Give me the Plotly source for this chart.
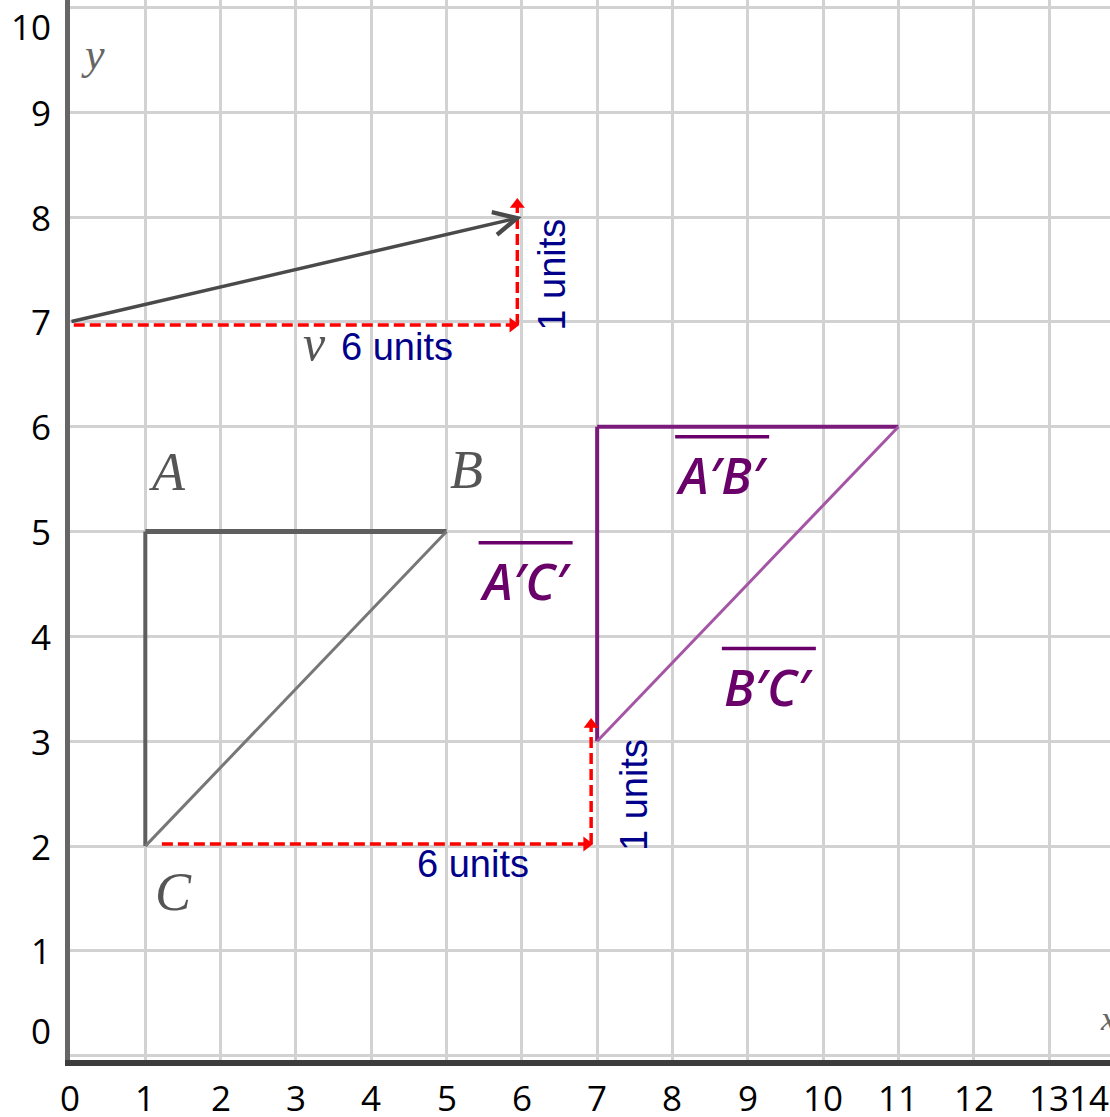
import plotly.graph_objects as go

# ---- data ----
x_ticks = list(range(0, 15))
y_ticks = list(range(0, 11))

tri_x = [1, 5, 1]            # A, B, C
tri_y = [5, 5, 2]
img_x = [7, 11, 7]           # A', B', C'
img_y = [6, 6, 3]
edges = [(0, 1), (0, 2), (1, 2)]  # AB, AC, BC

v_start = (0, 7)
v_end = (6, 8)

# red dashed translation guides
guide1_h_x = [0.05, 5.88]; guide1_h_y = [6.97, 6.97]
guide1_v_x = [5.94, 5.94]; guide1_v_y = [6.97, 8.12]
guide2_h_x = [1.22, 6.86]; guide2_h_y = [2.02, 2.02]
guide2_v_x = [6.92, 6.92]; guide2_v_y = [2.02, 3.16]

vertex_labels = ["A", "B", "C"]
vertex_label_x = [1.29, 5.27, 1.37]
vertex_label_y = [5.57, 5.59, 1.56]

seg_labels = ["A′B′", "A′C′", "B′C′"]
seg_label_x = [8.66, 6.05, 9.28]
seg_label_y = [5.57, 4.56, 3.55]

unit_h_text = ["6 units", "6 units"]
unit_h_x = [4.34, 5.35]
unit_h_y = [6.76, 1.83]
unit_v_text = ["1 units", "1 units"]
unit_v_x = [6.40, 7.48]
unit_v_y = [7.45, 2.49]

X_MAX = 13.81
Y_MIN, Y_MAX = -0.04, 10.07

GRAY = "#5e5e5e"
PURPLE = "#7a1a7a"
PURPLE_LIGHT = "#a455a4"
NAVY = "#00008b"
RED = "#ff0000"

fig = go.Figure()

# original triangle
tri_w = [5, 4, 3]
tri_c = [GRAY, GRAY, "#777777"]
for (i, j), w, c in zip(edges, tri_w, tri_c):
    fig.add_trace(go.Scatter(x=[tri_x[i], tri_x[j]], y=[tri_y[i], tri_y[j]], mode="lines",
                             line=dict(color=c, width=w), hoverinfo="skip", showlegend=False))
# image triangle
img_w = [4, 4, 3]
img_c = [PURPLE, PURPLE, PURPLE_LIGHT]
for (i, j), w, c in zip(edges, img_w, img_c):
    fig.add_trace(go.Scatter(x=[img_x[i], img_x[j]], y=[img_y[i], img_y[j]], mode="lines",
                             line=dict(color=c, width=w), hoverinfo="skip", showlegend=False))

# red dashed guides
for gx, gy, sym in [(guide1_h_x, guide1_h_y, "triangle-right"), (guide1_v_x, guide1_v_y, "triangle-up"),
                    (guide2_h_x, guide2_h_y, "triangle-right"), (guide2_v_x, guide2_v_y, "triangle-up")]:
    fig.add_trace(go.Scatter(x=gx, y=gy, mode="lines", line=dict(color=RED, width=3.5, dash="11px,5px"),
                             hoverinfo="skip", showlegend=False))
    fig.add_trace(go.Scatter(x=[gx[-1]], y=[gy[-1]], mode="markers",
                             marker=dict(symbol=sym, size=13, color=RED), hoverinfo="skip", showlegend=False))

annotations = []
# vector v
annotations.append(dict(x=v_end[0], y=v_end[1], ax=v_start[0], ay=v_start[1], xref="x", yref="y",
                        axref="x", ayref="y", text="", showarrow=True, arrowhead=5, arrowsize=1.3,
                        arrowwidth=3.5, arrowcolor="#4a4a4a"))
annotations.append(dict(x=3.25, y=6.80, xref="x", yref="y", text="v", showarrow=False,
                        font=dict(family="Liberation Serif", size=50, color="#555555", style="italic")))
annotations.append(dict(x=0.31, y=9.55, xref="x", yref="y", text="y", showarrow=False,
                        font=dict(family="Liberation Serif", size=44, color="#666666", style="italic")))
annotations.append(dict(x=1.0, y=0.02, xref="paper", yref="paper", xanchor="left", xshift=-12, text="x",
                        showarrow=False, font=dict(family="Liberation Serif", size=34, color="#666666", style="italic")))

for t, lx, ly in zip(vertex_labels, vertex_label_x, vertex_label_y):
    annotations.append(dict(x=lx, y=ly, xref="x", yref="y", text=t, showarrow=False,
                            font=dict(family="Liberation Serif", size=54, color="#555555", style="italic")))

shapes = []
for t, lx, ly in zip(seg_labels, seg_label_x, seg_label_y):
    annotations.append(dict(x=lx, y=ly, xref="x", yref="y", text=t, showarrow=False, yshift=-3,
                            font=dict(family="Open Sans", size=50, color="#6a006a", style="italic", weight=600)))
    shapes.append(dict(type="line", xref="x", yref="y", xsizemode="pixel", ysizemode="pixel",
                       xanchor=lx, yanchor=ly, x0=-47, x1=47, y0=35, y1=35,
                       line=dict(color="#6a006a", width=3.5)))

for t, lx, ly in zip(unit_h_text, unit_h_x, unit_h_y):
    annotations.append(dict(x=lx, y=ly, xref="x", yref="y", text=t, showarrow=False,
                            font=dict(family="Liberation Sans", size=38, color=NAVY)))
for t, lx, ly in zip(unit_v_text, unit_v_x, unit_v_y):
    annotations.append(dict(x=lx, y=ly, xref="x", yref="y", text=t, showarrow=False, textangle=-90,
                            font=dict(family="Liberation Sans", size=38, color=NAVY)))

# tick labels
TICK_FONT = dict(family="Open Sans", size=35, color="#000000")
for v in x_ticks:
    if v == x_ticks[-1]:
        annotations.append(dict(x=1.0, y=0, xref="paper", yref="paper", xanchor="right", yanchor="middle",
                                xshift=1, yshift=-37, height=36, text=str(v), showarrow=False, font=TICK_FONT))
    else:
        annotations.append(dict(x=v, y=0, xref="x", yref="paper", xanchor="center", yanchor="middle",
                                yshift=-37, height=36, text=str(v), showarrow=False, font=TICK_FONT))
for v in y_ticks:
    if v == y_ticks[-1]:
        anchor, ys = "top", 6
    elif v == y_ticks[0]:
        anchor, ys = "bottom", 0
    else:
        anchor, ys = "middle", 0
    annotations.append(dict(x=0, y=v, xref="paper", yref="y", xanchor="right", yanchor=anchor,
                            xshift=-17, yshift=ys, text=str(v), showarrow=False, font=TICK_FONT))

fig.update_layout(
    width=1110, height=1117,
    margin=dict(l=70, r=0, t=0, b=57),
    paper_bgcolor="white", plot_bgcolor="white",
    showlegend=False,
    annotations=annotations,
    shapes=shapes,
    xaxis=dict(range=[0, X_MAX], tickvals=x_ticks, showticklabels=False, showgrid=True,
               gridcolor="#d2d2d2", gridwidth=3, zeroline=False, showline=True,
               linecolor="#3c3c3c", linewidth=6, ticks=""),
    yaxis=dict(range=[Y_MIN, Y_MAX], tickvals=y_ticks, showticklabels=False, showgrid=True,
               gridcolor="#d2d2d2", gridwidth=3, zeroline=False, showline=True,
               linecolor="#666666", linewidth=5, ticks=""),
)

# remove the default page margin so the figure fills the window exactly
fig.write_html("out.html", config={"displayModeBar": False},
               post_script="document.body.style.margin='0';document.body.style.overflow='hidden';")
